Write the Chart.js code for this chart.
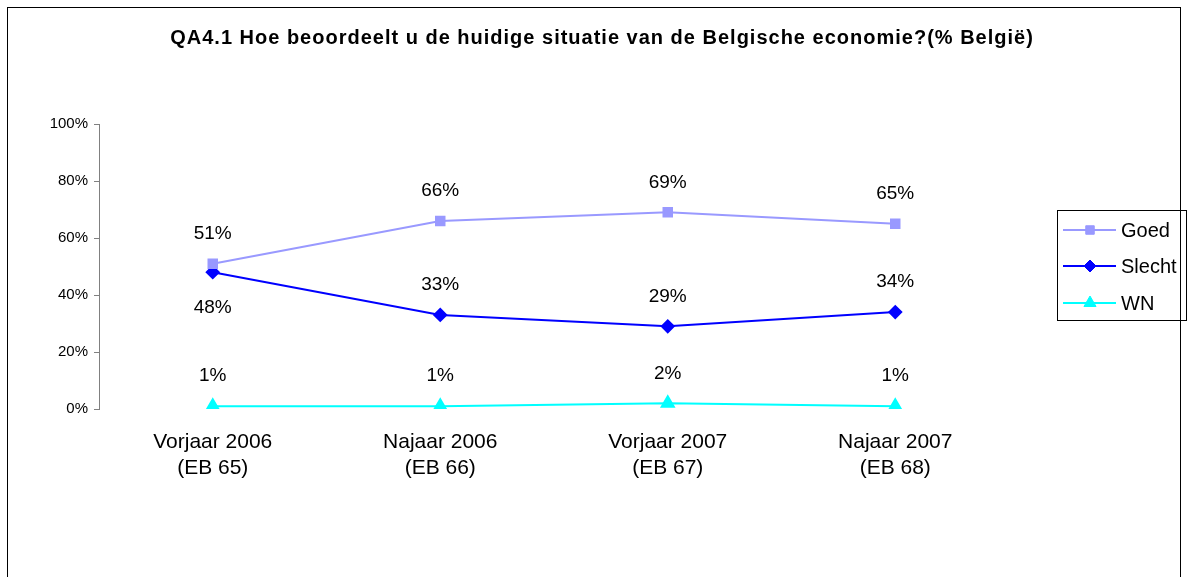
<!DOCTYPE html>
<html>
<head>
<meta charset="utf-8">
<script src="https://cdn.jsdelivr.net/npm/chart.js@4/dist/chart.umd.min.js"></script>
<style>
  html, body { margin: 0; padding: 0; background: #fff; }
  #frame { position: absolute; left: 7px; top: 7px; width: 1172px; height: 600px; border: 1px solid #000; }
  #wrap { position: absolute; left: 0; top: 0; width: 1189px; height: 577px; }
</style>
</head>
<body>
<div id="frame"></div>
<div id="wrap"><canvas id="chart" width="1189" height="577"></canvas></div>
<script>
const titleText = 'QA4.1 Hoe beoordeelt u de huidige situatie van de Belgische economie?(% België)';
const categories = [
  ['Vorjaar 2006', '(EB 65)'],
  ['Najaar 2006', '(EB 66)'],
  ['Vorjaar 2007', '(EB 67)'],
  ['Najaar 2007', '(EB 68)']
];
const goed = [51, 66, 69, 65];
const slecht = [48, 33, 29, 34];
const wn = [1, 1, 2, 1];
// label above (-1) or below (+1) the point
const slechtLabelSide = [1, -1, -1, -1];

const FONT = '"Liberation Sans", Arial, sans-serif';

const labelPlugin = {
  id: 'labels',
  afterDatasetsDraw(chart) {
    const ctx = chart.ctx;
    ctx.save();
    ctx.fillStyle = '#000';
    ctx.font = '19px ' + FONT;
    ctx.textAlign = 'center';
    ctx.textBaseline = 'middle';
    chart.data.datasets.forEach((ds, di) => {
      const meta = chart.getDatasetMeta(di);
      meta.data.forEach((pt, i) => {
        let side = -1;
        if (di === 1) side = slechtLabelSide[i];
        const off = side < 0 ? 30 : 36;
        ctx.fillText(ds.data[i] + '%', pt.x, pt.y + side * off);
      });
    });
    ctx.restore();
  },
  afterDraw(chart) {
    const ctx = chart.ctx;
    ctx.save();
    // title
    ctx.fillStyle = '#000';
    ctx.font = 'bold 20px ' + FONT;
    ctx.letterSpacing = '1px';
    ctx.textAlign = 'center';
    ctx.textBaseline = 'middle';
    ctx.fillText(titleText, 602, 38);
    ctx.letterSpacing = '0px';
    // legend
    ctx.strokeStyle = '#000';
    ctx.lineWidth = 1;
    ctx.strokeRect(1057.5, 210.5, 129, 110);
    const ys = [230, 266, 303];
    chart.data.datasets.forEach((ds, i) => {
      const y = ys[i];
      ctx.strokeStyle = ds.borderColor;
      ctx.lineWidth = 2;
      ctx.beginPath();
      ctx.moveTo(1063, y);
      ctx.lineTo(1116, y);
      ctx.stroke();
      ctx.fillStyle = ds.pointBackgroundColor;
      ctx.strokeStyle = ds.pointBackgroundColor;
      ctx.lineWidth = 1;
      Chart.helpers.drawPoint(ctx, {
        pointStyle: ds.pointStyle,
        radius: ds.pointRadius,
        rotation: 0,
        borderWidth: 1
      }, 1090, y);
      ctx.fillStyle = '#000';
      ctx.font = '20px ' + FONT;
      ctx.textAlign = 'left';
      ctx.fillText(ds.label, 1121, y + 1);
    });
    ctx.restore();
  }
};

new Chart(document.getElementById('chart'), {
  type: 'line',
  data: {
    labels: categories,
    datasets: [
      {
        label: 'Goed', data: goed,
        borderColor: '#9999FF', backgroundColor: '#9999FF',
        pointBackgroundColor: '#9999FF', pointBorderColor: '#9999FF',
        pointStyle: 'rect', pointRadius: 6, borderWidth: 2
      },
      {
        label: 'Slecht', data: slecht,
        borderColor: '#0000FF', backgroundColor: '#0000FF',
        pointBackgroundColor: '#0000FF', pointBorderColor: '#0000FF',
        pointStyle: 'rectRot', pointRadius: 6, borderWidth: 2
      },
      {
        label: 'WN', data: wn,
        borderColor: '#00FFFF', backgroundColor: '#00FFFF',
        pointBackgroundColor: '#00FFFF', pointBorderColor: '#00FFFF',
        pointStyle: 'triangle', pointRadius: 7, borderWidth: 2
      }
    ]
  },
  options: {
    responsive: false,
    animation: false,
    devicePixelRatio: 1,
    layout: { padding: { left: 0, right: 180, top: 124, bottom: 0 } },
    plugins: { legend: { display: false }, title: { display: false }, tooltip: { enabled: false } },
    scales: {
      x: {
        offset: true,
        grid: { display: false },
        border: { display: false },
        ticks: { color: '#000', font: { family: FONT, size: 21 }, padding: 13, maxRotation: 0 },
        afterFit(s) { s.height = 168; }
      },
      y: {
        min: 0, max: 100,
        grid: { display: true, drawOnChartArea: false, tickLength: 5, color: '#808080' },
        border: { display: true, color: '#808080', width: 1 },
        ticks: { stepSize: 20, color: '#000', font: { family: FONT, size: 15 }, padding: 6,
          callback: v => v + '%' },
        afterFit(s) { s.width = 99; }
      }
    }
  },
  plugins: [labelPlugin]
});
</script>
</body>
</html>
